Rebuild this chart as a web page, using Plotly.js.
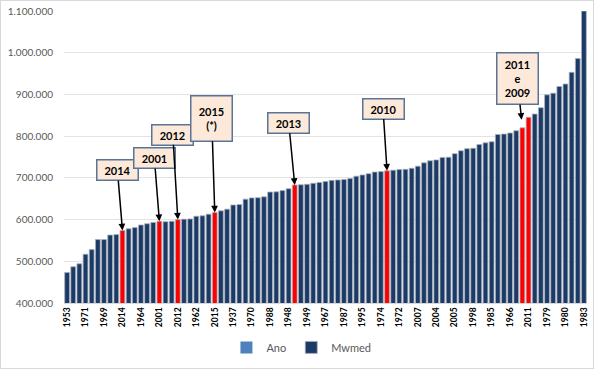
<!DOCTYPE html>
<html>
<head>
<meta charset="utf-8">
<script src="https://cdn.plot.ly/plotly-3.0.1.min.js"></script>
<style>
  html, body { margin: 0; padding: 0; background: #fff; }
  #wrap { position: relative; width: 594px; height: 369px; }
  #chart { position: absolute; left: 0; top: 0; width: 594px; height: 369px; }
  #frame { position: absolute; left: 0; top: 0; width: 594px; height: 369px; box-sizing: border-box; border: 1px solid #d9d9d9; pointer-events: none; }
</style>
</head>
<body>
<div id="wrap"><div id="chart"></div><div id="frame"></div></div>
<script>
// Mwmed values, sorted ascending (rank order as in the reference)
const mwmed = [
  473000, 487000, 494000, 517000, 528000, 552000, 552000, 563000, 564000, 574000,
  578000, 581000, 587000, 590000, 593000, 596000, 595000, 596000, 600000, 601000,
  601500, 608000, 609000, 613000, 617000, 621000, 625000, 635000, 636000, 649000,
  652000, 652500, 654500, 666000, 666500, 669500, 674000, 683000, 683500, 684500,
  687000, 689000, 691500, 694000, 695000, 696000, 698500, 704000, 707000, 710000,
  714000, 715000, 717000, 718500, 720000, 720500, 723000, 728000, 736000, 741000,
  743000, 749000, 749500, 758000, 765000, 770000, 771000, 780000, 784000, 786500,
  804000, 805000, 807500, 813000, 820000, 845000, 853000, 868000, 899000, 903000,
  919000, 925000, 953000, 986000, 1100000
];
// "Ano" series of the legend (no visible values in the reference)
const anoValues = [null];
// Tick labels shown under every third bar
const tickYears = [
  "1953","1971","1969","2014","1964","2001","2012","1962","2015","1937",
  "1970","1988","1948","1949","1967","1987","1995","1974","1972","2007",
  "2004","2005","1998","1985","1966","2011","1979","1980","1983"
];
// Highlighted years (red bars) and their rank in the sorted list
const highlightYears = ["2014","2001","2012","2015","2013","2010","2009","2011"];
const highlightRanks = [9, 15, 18, 24, 37, 52, 74, 75];
// Callout texts and the rank each callout points to
const calloutTexts = ["2014","2001","2012","2015<br>(*)","2013","2010","2011<br>e<br>2009"];
const calloutRanks = [9, 15, 18, 24, 37, 52, 74];

const ranks = mwmed.map((_, i) => i);
const barColors = ranks.map(i => highlightRanks.includes(i) ? '#ff0000' : '#1b3a66');
const tickVals = tickYears.map((_, k) => k * 3);

// pixel offsets (box centre relative to arrow head) and box heights
const calloutStyle = [
  {ax: -5, ay: -60, h: 15, standoff: 0},
  {ax: -5, ay: -63, h: 15, standoff: 0},
  {ax: -5, ay: -85, h: 15, standoff: 0},
  {ax: -3, ay: -94, h: 40, standoff: 0},
  {ax: -6, ay: -62, h: 15, standoff: 0},
  {ax: -4, ay: -62, h: 15, standoff: 0},
  {ax: -5, ay: -49, h: 46, standoff: 8}
];

const annotations = calloutTexts.map((t, k) => ({
  x: calloutRanks[k], y: mwmed[calloutRanks[k]], xref: 'x', yref: 'y',
  text: '<b>' + t + '</b>',
  showarrow: true, arrowhead: 2, arrowsize: 0.9, arrowwidth: 1.5, arrowcolor: '#000000',
  ax: calloutStyle[k].ax, ay: calloutStyle[k].ay, standoff: calloutStyle[k].standoff,
  bgcolor: '#fde9d9', bordercolor: '#5b7396', borderwidth: 1.5, borderpad: 2,
  width: 36, height: calloutStyle[k].h,
  font: {family: 'Lato, sans-serif', size: 11, color: '#000000'}
}));

const traces = [
  {
    type: 'bar', name: 'Ano', x: anoValues.map((_, i) => i), y: anoValues,
    marker: {color: '#4f81bd'}, showlegend: true
  },
  {
    type: 'bar', name: 'Mwmed', x: ranks, y: mwmed,
    marker: {color: barColors, line: {color: '#a9b1bc', width: 0.8}},
    hoverinfo: 'y'
  }
];

const layout = {
  width: 594, height: 369,
  margin: {l: 64, r: 7, t: 11, b: 62},
  paper_bgcolor: '#ffffff', plot_bgcolor: '#ffffff',
  separators: ',.',
  font: {family: 'Lato, sans-serif', color: '#595959'},
  bargap: 0.22, barmode: 'overlay',
  showlegend: true,
  legend: {
    orientation: 'h', x: 0.454, xanchor: 'center', y: -0.152, yanchor: 'middle',
    font: {family: 'Lato, sans-serif', size: 11, color: '#595959'},
    traceorder: 'normal', itemwidth: 30
  },
  xaxis: {
    range: [-0.5, 84.5], tickmode: 'array', tickvals: tickVals, ticktext: tickYears,
    tickangle: -90, tickfont: {family: 'Lato, sans-serif', size: 8.5, color: '#000000', weight: 'bold'},
    showgrid: false, zeroline: false, showline: true, linecolor: '#d9d9d9', linewidth: 1,
    ticks: '', fixedrange: true
  },
  yaxis: {
    range: [400000, 1100000], dtick: 100000, tick0: 400000, tickformat: ',d',
    tickfont: {family: 'Lato, sans-serif', size: 10, color: '#595959'},
    showgrid: true, gridcolor: '#e3e3e3', gridwidth: 1, zeroline: false,
    showline: false, ticks: '', ticklabelstandoff: 10, fixedrange: true
  },
  annotations: annotations
};

Plotly.newPlot('chart', traces, layout, {displayModeBar: false, staticPlot: true});
</script>
</body>
</html>
